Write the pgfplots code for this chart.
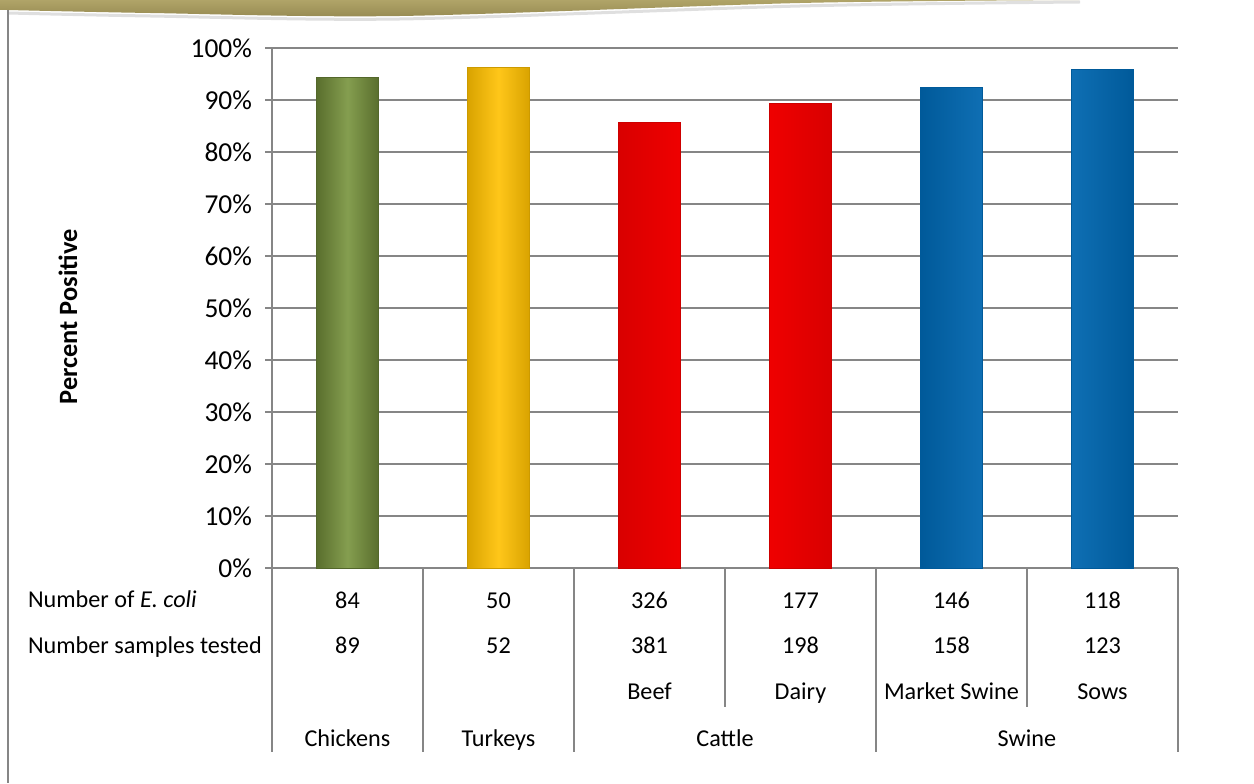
\documentclass[border=0pt]{standalone}
\usepackage{pgfplots}
\pgfplotsset{compat=1.18}
\usepackage{fontspec}
\setmainfont{Carlito}
\definecolor{cgreen}{RGB}{119,147,60}
\definecolor{cyellow}{RGB}{255,192,0}
\definecolor{cred}{RGB}{255,0,0}
\definecolor{cblue}{RGB}{0,112,192}
\definecolor{olive1}{RGB}{176,164,104}
\definecolor{olive2}{RGB}{150,138,82}
\definecolor{gline}{RGB}{134,134,134}
\newcommand{\fs}{\fontsize{12.1}{14}\selectfont}
\newcommand{\fsb}{\fontsize{13.2}{15}\selectfont}
\newcommand{\fst}{\fontsize{13.7}{15}\selectfont}
\tikzset{tabtext/.style={font=\fs, text height=1.6ex, text depth=0.4ex}}
\begin{document}
\begin{tikzpicture}[x=0.5pt,y=0.5pt,font=\fs]
\path[use as bounding box] (0,0) rectangle (1254,783);
% decorative band
\shade[top color=olive1,bottom color=olive2]
  (0,783) -- (1090,783) -- plot[smooth] coordinates {(1080,783) (800,780) (400,767) (150,770) (8,773)} -- (0,773) -- cycle;
\draw[gray!50,line width=1.5pt,opacity=0.5] plot[smooth] coordinates {(8,770) (150,767) (400,764) (800,777) (1080,781)};
\draw[gline,line width=1pt] (8,773) -- (8,0);
\begin{axis}[
  at={(136pt,107.5pt)}, anchor=south west,
  scale only axis, width=453pt, height=260pt,
  xmin=-0.5, xmax=5.5, ymin=0, ymax=100,
  axis lines=left, axis line style={-,draw=gline,line width=0.9pt},
  xtick=\empty,
  ytick={0,10,...,100},
  yticklabel={\pgfmathprintnumber{\tick}\%},
  yticklabel style={font=\fst, xshift=-3pt},
  /pgf/number format/assume math mode=true,
  tick align=outside, major tick length=3.5pt,
  ytick style={draw=gline,line width=0.9pt},
  ymajorgrids, grid style={draw=gline,line width=0.9pt},
  bar width=31pt,
  clip=false,
]
\addplot[ybar,bar shift=0pt,draw=cgreen!70!black,left color=cgreen!75!black,right color=cgreen!75!black,middle color=cgreen!90!white] coordinates {(0,94.4)};
\addplot[ybar,bar shift=0pt,draw=cyellow!80!black,left color=cyellow!85!black,right color=cyellow!85!black,middle color=cyellow!90!white] coordinates {(1,96.2)};
\addplot[ybar,bar shift=0pt,draw=cred!80!black,left color=cred!85!black,right color=cred!85!black,middle color=cred] coordinates {(2,85.6) (3,89.4)};
\addplot[ybar,bar shift=0pt,draw=cblue!80!black,left color=cblue!80!black,right color=cblue!80!black,middle color=cblue!90!white] coordinates {(4,92.4) (5,95.9)};
% table lines
\pgfplotsinvokeforeach{-0.5,0.5,1.5,3.5,5.5}{\draw[gline,line width=0.9pt] (axis cs:#1,0) -- (axis cs:#1,-35.4);}
\pgfplotsinvokeforeach{2.5,4.5}{\draw[gline,line width=0.9pt] (axis cs:#1,0) -- (axis cs:#1,-26.7);}
% table text
\node[tabtext] at (axis cs:0,-6.6) {84};
\node[tabtext] at (axis cs:1,-6.6) {50};
\node[tabtext] at (axis cs:2,-6.6) {326};
\node[tabtext] at (axis cs:3,-6.6) {177};
\node[tabtext] at (axis cs:4,-6.6) {146};
\node[tabtext] at (axis cs:5,-6.6) {118};
\node[tabtext] at (axis cs:0,-15.4) {89};
\node[tabtext] at (axis cs:1,-15.4) {52};
\node[tabtext] at (axis cs:2,-15.4) {381};
\node[tabtext] at (axis cs:3,-15.4) {198};
\node[tabtext] at (axis cs:4,-15.4) {158};
\node[tabtext] at (axis cs:5,-15.4) {123};
\node[tabtext] at (axis cs:2,-24.1) {Beef};
\node[tabtext] at (axis cs:3,-24.1) {Dairy};
\node[tabtext] at (axis cs:4,-24.1) {Market Swine};
\node[tabtext] at (axis cs:5,-24.1) {Sows};
\node[tabtext] at (axis cs:0,-33.3) {Chickens};
\node[tabtext] at (axis cs:1,-33.3) {Turkeys};
\node[tabtext] at (axis cs:2.5,-33.3) {Cattle};
\node[tabtext] at (axis cs:4.5,-33.3) {Swine};
\end{axis}
\node[anchor=west,tabtext] at (21,783-602) {Number of \textit{E. coli}};
\node[anchor=west,tabtext] at (21,783-648) {Number samples tested};
\node[rotate=90,font=\fsb\bfseries] at (68,783-317) {Percent Positive};
\end{tikzpicture}
\end{document}
